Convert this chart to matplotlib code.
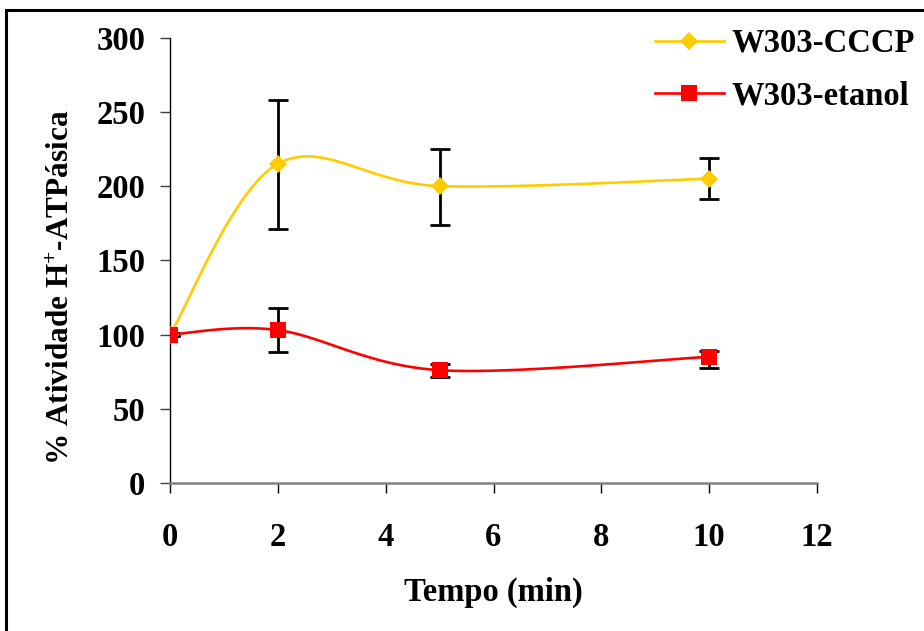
import numpy as np
import matplotlib
matplotlib.use("Agg")
import matplotlib.pyplot as plt
import matplotlib.patches as patches

plt.rcParams['font.family'] = 'Liberation Serif'
plt.rcParams['font.weight'] = 'bold'
plt.rcParams['mathtext.fontset'] = 'custom'
plt.rcParams['mathtext.rm'] = 'Liberation Serif:bold'
plt.rcParams['mathtext.it'] = 'Liberation Serif:bold'
plt.rcParams['mathtext.bf'] = 'Liberation Serif:bold'

# tempo (min)
tempo = [0, 2, 5, 10]

# % atividade H+-ATPasica
cccp = [100, 215, 200, 205]
cccp_err_low = [1, 44, 26, 14]
cccp_err_high = [1, 43, 25, 14]

etanol = [100, 103, 76, 85]
etanol_err_low = [1, 15, 4.5, 7.5]
etanol_err_high = [1, 15, 4.5, 4]

FS = 23.5


def smooth(xs, ys, n=40):
    # curva suave tipo Excel (Bezier com pontos de controle Catmull-Rom)
    px = [xs[0]] + list(xs) + [xs[-1]]
    py = [ys[0]] + list(ys) + [ys[-1]]
    out_x, out_y = [], []
    t = np.linspace(0, 1, n)
    for i in range(1, len(px) - 2):
        x0, y0 = px[i], py[i]
        x3, y3 = px[i + 1], py[i + 1]
        x1 = x0 + (px[i + 1] - px[i - 1]) / 6.0
        y1 = y0 + (py[i + 1] - py[i - 1]) / 6.0
        x2 = x3 - (px[i + 2] - px[i]) / 6.0
        y2 = y3 - (py[i + 2] - py[i]) / 6.0
        bx = (1-t)**3*x0 + 3*(1-t)**2*t*x1 + 3*(1-t)*t**2*x2 + t**3*x3
        by = (1-t)**3*y0 + 3*(1-t)**2*t*y1 + 3*(1-t)*t**2*y2 + t**3*y3
        out_x.extend(bx)
        out_y.extend(by)
    return np.array(out_x), np.array(out_y)


fig = plt.figure(figsize=(9.24, 6.31), dpi=100)
ax = fig.add_axes([170/924, 1 - 483/631, 647/924, 445.3/631])

series = [
    (cccp, cccp_err_low, cccp_err_high, '#FFCC00', 'D', 9.2, 'W303-CCCP'),
    (etanol, etanol_err_low, etanol_err_high, '#FF0000', 's', 11, 'W303-etanol'),
]
handles = []
for vals, elo, ehi, cor, mk, ms, nome in series:
    ax.errorbar(tempo, vals, yerr=[elo, ehi], fmt='none', ecolor='black',
                elinewidth=2.0, capsize=7, capthick=2.0, zorder=2)
    sx, sy = smooth(tempo, vals)
    ax.plot(sx, sy, color=cor, lw=1.9, zorder=3)
    ax.plot(tempo, vals, linestyle='none', marker=mk, ms=ms, color=cor,
            markeredgewidth=0, zorder=4)
    h, = ax.plot([], [], color=cor, lw=1.9, marker=mk, ms=ms, markeredgewidth=0)
    handles.append((h, nome))

ax.set_xlim(0, 12)
ax.set_ylim(0, 300)
ax.set_xticks(range(0, 13, 2))
ax.set_yticks(range(0, 301, 50))
ax.spines['top'].set_visible(False)
ax.spines['right'].set_visible(False)
ax.spines['left'].set_color('black')
ax.spines['left'].set_linewidth(1.0)
ax.spines['bottom'].set_color('#808080')
ax.spines['bottom'].set_linewidth(1.8)
ax.tick_params(axis='x', direction='out', length=7, width=1.0, color='black',
               pad=21, labelsize=FS)
ax.tick_params(axis='y', direction='out', length=7, width=1.0, color='#404040',
               pad=11, labelsize=FS)
for lab in ax.get_xticklabels() + ax.get_yticklabels():
    lab.set_fontweight('bold')

ax.set_xlabel('Tempo (min)', fontsize=FS, fontweight='bold', labelpad=17)
ax.set_ylabel('% Atividade H$^{+}$-ATPásica', fontsize=22.5, fontweight='bold')
ax.yaxis.set_label_coords(-0.145, 0.44)

fig.legend([h for h, _ in handles], [n for _, n in handles],
           loc='upper left', bbox_to_anchor=(655/924, 1 - 28/631),
           frameon=False, prop={'weight': 'bold', 'size': FS},
           handlelength=2.1, handletextpad=0.25, labelspacing=0.65,
           borderpad=0, borderaxespad=0)

# moldura da figura
fig.patches.append(patches.Rectangle((6/924, -0.1), 1.2, (631 - 10)/631 + 0.1,
                                     transform=fig.transFigure, fill=False,
                                     edgecolor='black', linewidth=2.2))

fig.savefig('out.png', dpi=100)
